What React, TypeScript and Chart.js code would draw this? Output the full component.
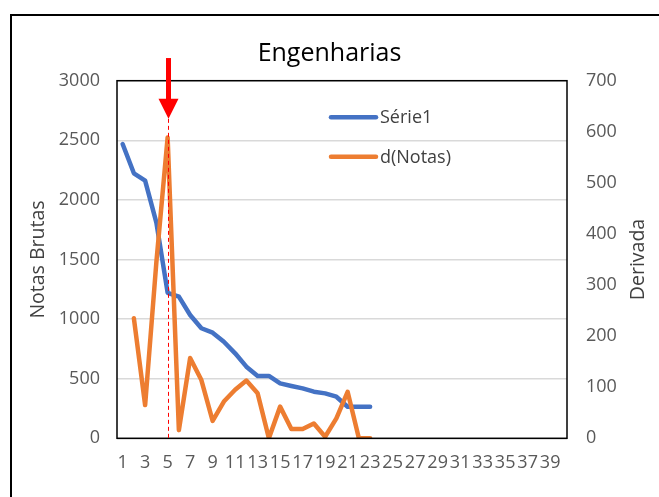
import React, { useEffect, useRef } from "react";
import { Chart, registerables } from "chart.js";

Chart.register(...registerables);

const categories = [
  "1", "2", "3", "4", "5", "6", "7", "8", "9", "10",
  "11", "12", "13", "14", "15", "16", "17", "18", "19", "20",
  "21", "22", "23", "24", "25", "26", "27", "28", "29", "30",
  "31", "32", "33", "34", "35", "36", "37", "38", "39", "40",
];

const serie1 = [
  2469, 2223, 2161, 1810, 1221, 1188, 1034, 923, 886, 810,
  713, 601, 523, 523, 461, 439, 419, 391, 377, 349,
  265, 265, 265,
];

const dNotas = [
  null, 235, 65, 345, 589, 16, 157, 114, 34, 72,
  95, 113, 88, 0, 62, 18, 18, 29, 3, 39,
  91, 0, 0,
];

const leftTicks = { min: 0, max: 3000, step: 500 };
const rightTicks = { min: 0, max: 700, step: 100 };

const markerCategory = "5";
const arrowTopValue = 3190;
const arrowTipValue = 2680;

const FONT = "'Open Sans'";
const TICK_COLOR = "#595959";
const rightTitle = "Derivada";

const decorPlugin = {
  id: "decor",
  beforeDraw(chart: any) {
    const ctx = chart.ctx;
    ctx.save();
    ctx.fillStyle = "#ffffff";
    ctx.fillRect(0, 0, chart.width, chart.height);
    ctx.strokeStyle = "#000000";
    ctx.lineWidth = 2;
    ctx.beginPath();
    ctx.moveTo(11, chart.height + 5);
    ctx.lineTo(11, 15);
    ctx.lineTo(chart.width + 5, 15);
    ctx.stroke();
    ctx.restore();
  },
  afterDatasetsDraw(chart: any) {
    const ctx = chart.ctx;
    const a = chart.chartArea;
    const xs = chart.scales.x;
    const yl = chart.scales.y;
    ctx.save();
    // plot border
    ctx.strokeStyle = "#000000";
    ctx.lineWidth = 1.5;
    ctx.strokeRect(a.left, a.top, a.right - a.left, a.bottom - a.top);

    // red marker
    const idx = categories.indexOf(markerCategory);
    const x = xs.getPixelForValue(idx);
    const xc = Math.round(x) + 0.5;
    const tip = yl.getPixelForValue(arrowTipValue);
    const top = yl.getPixelForValue(arrowTopValue);
    ctx.strokeStyle = "#ff0000";
    ctx.lineWidth = 1;
    ctx.setLineDash([4, 3]);
    ctx.beginPath();
    ctx.moveTo(xc, tip);
    ctx.lineTo(xc, a.bottom);
    ctx.stroke();
    ctx.setLineDash([]);
    const headH = 20;
    ctx.fillStyle = "#ff0000";
    ctx.fillRect(xc - 2.5, top, 5, tip - headH - top + 1);
    ctx.beginPath();
    ctx.moveTo(xc - 10, tip - headH);
    ctx.lineTo(xc + 10, tip - headH);
    ctx.lineTo(xc, tip);
    ctx.closePath();
    ctx.fill();

    // legend inside plot
    const items = [
      { label: "Série1", color: "#4472C4", dy: 36.6 },
      { label: "d(Notas)", color: "#ED7D31", dy: 76 },
    ];
    ctx.font = `18px ${FONT}`;
    ctx.textBaseline = "middle";
    ctx.textAlign = "left";
    for (const it of items) {
      const y = a.top + it.dy;
      ctx.strokeStyle = it.color;
      ctx.lineWidth = 4.5;
      ctx.lineCap = "round";
      ctx.beginPath();
      ctx.moveTo(a.left + 214, y);
      ctx.lineTo(a.left + 259, y);
      ctx.stroke();
      ctx.fillStyle = "#404040";
      ctx.fillText(it.label, a.left + 263, y + 1);
    }

    // right axis title, reading bottom-to-top
    ctx.translate(638, (a.top + a.bottom) / 2);
    ctx.rotate(-Math.PI / 2);
    ctx.font = `19.5px ${FONT}`;
    ctx.fillStyle = "#404040";
    ctx.textAlign = "center";
    ctx.textBaseline = "middle";
    ctx.fillText(rightTitle, 0, 0);
    ctx.restore();
  },
};

export default function App() {
  const ref = useRef<HTMLCanvasElement | null>(null);

  useEffect(() => {
    if (!ref.current) return;
    const chart = new Chart(ref.current, {
      type: "line",
      data: {
        labels: categories,
        datasets: [
          {
            label: "Série1",
            data: serie1,
            borderColor: "#4472C4",
            backgroundColor: "#4472C4",
            borderWidth: 4.5,
            pointRadius: 0,
            borderCapStyle: "round",
            borderJoinStyle: "round",
            yAxisID: "y",
            order: 1,
          },
          {
            label: "d(Notas)",
            data: dNotas,
            borderColor: "#ED7D31",
            backgroundColor: "#ED7D31",
            borderWidth: 4.5,
            pointRadius: 0,
            borderCapStyle: "round",
            borderJoinStyle: "round",
            yAxisID: "y1",
            order: 0,
          },
        ],
      },
      options: {
        responsive: false,
        animation: false,
        layout: { padding: { left: 0, right: 0, top: 0, bottom: 0 } },
        plugins: {
          legend: { display: false },
          tooltip: { enabled: false },
          title: {
            display: true,
            text: "Engenharias",
            color: "#000000",
            font: { family: FONT, size: 25, weight: "normal", lineHeight: 1.2 },
            padding: { top: 38.5, bottom: 12.2 },
          },
        },
        scales: {
          x: {
            type: "category",
            offset: true,
            grid: { display: false, drawTicks: false },
            border: { display: false },
            ticks: {
              autoSkip: false,
              maxRotation: 0,
              minRotation: 0,
              padding: 14,
              color: TICK_COLOR,
              font: { family: FONT, size: 18 },
              callback: (_v: any, i: number) => (i % 2 === 0 ? categories[i] : ""),
            },
            afterFit: (s: any) => {
              s.height = 58.7;
            },
          },
          y: {
            position: "left",
            min: leftTicks.min,
            max: leftTicks.max,
            grid: { color: "#d9d9d9", lineWidth: 1.5, drawTicks: false },
            border: { display: false },
            ticks: {
              stepSize: leftTicks.step,
              padding: 17,
              color: TICK_COLOR,
              font: { family: FONT, size: 18 },
              callback: (v: any) => String(v),
            },
            title: {
              display: true,
              text: "Notas Brutas",
              color: "#404040",
              font: { family: FONT, size: 19.5 },
              padding: { top: 26.3, bottom: 0 },
            },
            afterFit: (s: any) => {
              s.width = 117;
            },
          },
          y1: {
            position: "right",
            min: rightTicks.min,
            max: rightTicks.max,
            grid: { display: false, drawTicks: false },
            border: { display: false },
            ticks: {
              stepSize: rightTicks.step,
              padding: 19,
              color: TICK_COLOR,
              font: { family: FONT, size: 18 },
              callback: (v: any) => String(v),
            },
            title: { display: false },
            afterFit: (s: any) => {
              s.width = 92;
            },
          },
        },
      },
      plugins: [decorPlugin],
    });
    return () => chart.destroy();
  }, []);

  return (
    <div style={{ position: "fixed", left: 0, top: 0, width: 659, height: 497, background: "#fff" }}>
      <canvas ref={ref} width={659} height={497} style={{ display: "block" }} />
    </div>
  );
}
